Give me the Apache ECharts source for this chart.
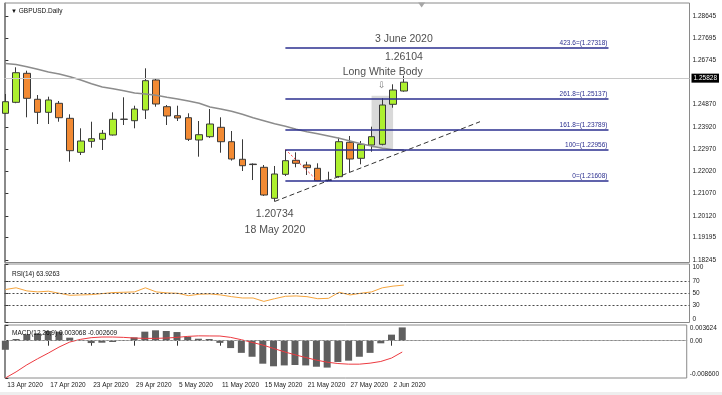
<!DOCTYPE html>
<html><head><meta charset="utf-8">
<script src="https://cdn.jsdelivr.net/npm/echarts@6/dist/echarts.min.js"></script>
<style>html,body{margin:0;padding:0;background:#fff}#c{width:722px;height:395px}</style>
</head><body><div id="c"></div>
<script>
// ---- data ----
const dates = ['13 Apr 2020','14 Apr 2020','15 Apr 2020','16 Apr 2020','17 Apr 2020','20 Apr 2020','21 Apr 2020','22 Apr 2020','23 Apr 2020','24 Apr 2020','27 Apr 2020','28 Apr 2020','29 Apr 2020','30 Apr 2020','1 May 2020','4 May 2020','5 May 2020','6 May 2020','7 May 2020','8 May 2020','11 May 2020','12 May 2020','13 May 2020','14 May 2020','15 May 2020','18 May 2020','19 May 2020','20 May 2020','21 May 2020','22 May 2020','25 May 2020','26 May 2020','27 May 2020','28 May 2020','29 May 2020','1 Jun 2020','2 Jun 2020','3 Jun 2020'];
const open  = [1.24499,1.24968,1.26207,1.25097,1.24541,1.24926,1.24285,1.22833,1.23303,1.23389,1.23572,1.24240,1.24183,1.24640,1.25921,1.24781,1.24396,1.24311,1.23359,1.23500,1.23901,1.23286,1.22535,1.22330,1.22193,1.20869,1.21894,1.22492,1.22291,1.22150,1.21630,1.21792,1.23261,1.22577,1.23145,1.23175,1.24883,1.25451];
const close = [1.24994,1.26232,1.25139,1.24541,1.25067,1.24311,1.22902,1.23316,1.23414,1.23645,1.24243,1.24250,1.24682,1.25891,1.24896,1.24384,1.24298,1.23389,1.23585,1.24042,1.23286,1.22547,1.22261,1.22310,1.21010,1.21907,1.22475,1.22364,1.22176,1.21621,1.21645,1.23286,1.22547,1.23175,1.23500,1.24853,1.25494,1.25828];
const low   = [1.24469,1.24930,1.24328,1.24042,1.24042,1.24140,1.22432,1.22718,1.23030,1.22932,1.23550,1.23999,1.23858,1.24255,1.24781,1.23999,1.24170,1.23316,1.22646,1.23450,1.22816,1.22480,1.22035,1.21650,1.20970,1.20734,1.21820,1.22193,1.21864,1.21608,1.21610,1.21749,1.21979,1.22321,1.22859,1.23130,1.24738,1.25420];
const high  = [1.25323,1.26463,1.26318,1.25280,1.25208,1.25024,1.24456,1.23858,1.24140,1.23786,1.24541,1.25182,1.24823,1.26420,1.25993,1.24853,1.24823,1.24499,1.24170,1.24682,1.24328,1.23743,1.23389,1.22360,1.22291,1.22249,1.22932,1.22833,1.22432,1.22364,1.22005,1.23457,1.23530,1.23316,1.23927,1.25139,1.25737,1.26104];
const ma    = [1.26625,1.26583,1.26489,1.26378,1.26262,1.26177,1.26062,1.25921,1.25763,1.25622,1.25549,1.25464,1.25366,1.25323,1.25267,1.25182,1.25109,1.25024,1.24926,1.24768,1.24682,1.24584,1.24456,1.24311,1.24183,1.24055,1.23944,1.23816,1.23713,1.23628,1.23530,1.23431,1.23316,1.23201,1.23103,1.23004,1.22953,1.22932];
const rsi   = [56.4,59.3,54.0,52.3,53.5,50.0,46.5,47.1,47.7,49.4,51.2,51.7,52.3,59.3,52.3,50.6,50.0,45.9,48.3,48.8,47.1,44.2,41.9,41.9,36.1,40.7,44.8,45.4,44.2,40.7,41.3,51.7,47.1,50.0,52.3,59.3,62.2,63.93];
const macdHist = [-0.00209,0.00039,0.00147,0.0017,0.00224,0.00209,0.0007,0.00005,-0.00054,-0.00046,-0.0003,0.0001,0.00077,0.00209,0.0024,0.00224,0.002,0.00093,0.00046,0.0004,-0.0005,-0.0017,-0.0028,-0.0037,-0.0053,-0.0059,-0.0057,-0.0056,-0.0057,-0.006,-0.0062,-0.0049,-0.0046,-0.0037,-0.0028,-0.0006,0.0014,0.003068];
const macdSignal = [-0.0086,-0.00719,-0.00557,-0.00417,-0.00286,-0.00147,-0.00031,0.00031,0.0007,0.00085,0.00085,0.00077,0.00062,0.00054,0.00054,0.00062,0.00077,0.001,0.00112,0.0011,0.00108,0.00077,0.00023,-0.00039,-0.001,-0.00178,-0.00255,-0.00325,-0.00387,-0.00448,-0.00495,-0.00526,-0.00541,-0.00541,-0.00518,-0.00479,-0.0040,-0.00261];
const priceTicks = [1.18245,1.19195,1.20120,1.21070,1.22020,1.22970,1.23920,1.24870,1.26745,1.27695,1.28645];
const dateLabelIdx = [0,4,8,12,16,20,24,28,32,36];
const rsiTicks = [0,30,50,70,100];
const rsiLevels = [30,50,70];
const macdTicks = [-0.0086,0,0.003624];
const macdTickLabels = ['-0.008600','0.00','0.003624'];
const fibLevels = ['0','100','161.8','261.8','423.6'];
const fibPrices = [1.21608,1.22956,1.23789,1.25137,1.27318];
const fibFrom = 26, fibTo = 56;
const lastPrice = 1.25828;
const trendPts = [[25,1.20734],[44.07,1.2414]];
const fibBasePts = [[26,1.22956],[29,1.21608]];
const highlightBox = [[34,1.23004],[36,1.25250]];
const annotText  = ['3 June 2020','1.26104','Long White Body','\u21e9','1.20734','18 May 2020'];
const annotX     = [37,37,35.03,34.94,25,25.03];
const annotPrice = [1.27671,1.26890,1.26275,1.25677,1.20186,1.19516];

// ---- chart ----
const FONT = 'Liberation Sans';
const SMALL = 6.5;
const chart = echarts.init(document.getElementById('c'), null, {renderer:'canvas', width:722, height:395});
const xBase = {type:'value', min:-0.08, max:63.52, splitLine:{show:false}};
const gridStyle = {show:true, borderColor:'#8a8a8a', borderWidth:1, backgroundColor:'#fff'};
const yLabel = {fontSize:SMALL, color:'#1a1a1a', margin:3, fontFamily:FONT};

const annotData = annotText.map((t,i)=>{
  const d = {value:[annotX[i], annotPrice[i]], name:t};
  if (t === '\u21e9') d.label = {fontFamily:'DejaVu Sans', fontSize:9, color:'#555'};
  return d;
});

const option = {
  animation:false,
  backgroundColor:'#fff',
  textStyle:{fontFamily:FONT},
  title:[
    {text:'{t|\u25bc} GBPUSD.Daily', left:6, top:3, z:20, textStyle:{fontSize:SMALL, fontWeight:'normal', color:'#111', fontFamily:FONT, rich:{t:{fontSize:6, color:'#111'}}}},
    {text:'RSI(14) 63.9263', left:7, top:266, z:20, textStyle:{fontSize:SMALL, fontWeight:'normal', color:'#111', fontFamily:FONT}},
    {text:'MACD(12,26,9) 0.003068 -0.002609', left:7, top:324.5, z:20, textStyle:{fontSize:SMALL, fontWeight:'normal', color:'#111', fontFamily:FONT}}
  ],
  graphic:[{type:'rect', left:0, top:392, shape:{width:722, height:3}, style:{fill:'#eeeeee'}, silent:true}],
  grid:[
    Object.assign({left:4.5, right:32.5, top:3, height:259.5}, gridStyle),
    Object.assign({left:4.5, right:32.5, top:264, height:58.5}, gridStyle),
    Object.assign({left:4.5, right:32.5, top:325, height:53}, gridStyle)
  ],
  xAxis:[
    Object.assign({gridIndex:0, show:false}, xBase),
    Object.assign({gridIndex:1, show:false}, xBase),
    Object.assign({gridIndex:2,
      axisLine:{show:true, lineStyle:{color:'#8a8a8a'}},
      axisTick:{show:true, customValues:dateLabelIdx, length:5, lineStyle:{color:'#333'}},
      axisLabel:{customValues:dateLabelIdx, formatter:v=>dates[Math.round(v)], align:'left', padding:[0,0,0,2], fontSize:SMALL, color:'#1a1a1a', margin:4, fontFamily:FONT}
    }, xBase)
  ],
  yAxis:[
    {type:'value', gridIndex:0, position:'right', min:1.18128, max:1.29209, splitLine:{show:false},
      axisLine:{show:true, lineStyle:{color:'#8a8a8a'}},
      axisTick:{show:true, customValues:priceTicks, length:3, lineStyle:{color:'#333'}},
      axisLabel:Object.assign({customValues:priceTicks, formatter:v=>v.toFixed(5)}, yLabel)},
    {type:'value', gridIndex:1, position:'right', min:0, max:100, splitLine:{show:false},
      axisLine:{show:true, lineStyle:{color:'#8a8a8a'}},
      axisTick:{show:true, customValues:rsiTicks, length:3, lineStyle:{color:'#333'}},
      axisLabel:Object.assign({customValues:rsiTicks, verticalAlignMaxLabel:'top', verticalAlignMinLabel:'bottom'}, yLabel)},
    {type:'value', gridIndex:2, position:'right', min:macdTicks[0], max:macdTicks[2], splitLine:{show:false},
      axisLine:{show:true, lineStyle:{color:'#8a8a8a'}},
      axisTick:{show:true, customValues:macdTicks, length:3, lineStyle:{color:'#333'}},
      axisLabel:Object.assign({customValues:macdTicks, verticalAlignMaxLabel:'top', verticalAlignMinLabel:'bottom',
        formatter:v=>{const k=macdTicks.findIndex(t=>Math.abs(t-v)<1e-9); return k>=0?macdTickLabels[k]:'';}}, yLabel)}
  ],
  series:[
    {type:'candlestick', xAxisIndex:0, yAxisIndex:0, barWidth:7, clip:true,
      data:dates.map((d,i)=>[i, open[i], close[i], low[i], high[i]]),
      encode:{x:0, y:[1,2,3,4]},
      itemStyle:{color:'#adf02e', color0:'#f28a33', borderColor:'#3a3a3a', borderColor0:'#3a3a3a', borderWidth:1},
      markArea:{silent:true, itemStyle:{color:'#d9d9d9'},
        data:[[{coord:highlightBox[0]},{coord:highlightBox[1]}]]},
      markLine:{silent:true, symbol:'none', animation:false,
        data:[{yAxis:lastPrice}],
        lineStyle:{color:'#c8c8c8', type:'solid', width:1},
        label:{position:'end', formatter:()=>lastPrice.toFixed(5), backgroundColor:'#000', color:'#fff', fontSize:SMALL, padding:[1,2,1,2], distance:2, fontFamily:FONT}},
      markPoint:{silent:true, data:[{coord:[38.65,1.29209], symbol:'triangle', symbolRotate:180, symbolSize:[7,5], symbolOffset:[0,2], itemStyle:{color:'#a6a6a6'}, label:{show:false}}]}
    },
    {type:'line', xAxisIndex:0, yAxisIndex:0, data:ma.map((v,i)=>[i,v]), symbol:'none', clip:true,
      lineStyle:{color:'#8c8c8c', width:1.5}, z:3,
      markLine:{silent:true, symbol:'none',
        data:fibPrices.map((p,k)=>[{coord:[fibFrom,p]},{coord:[fibTo,p]}]),
        lineStyle:{color:'#2b2f8f', width:1.6, type:'solid'},
        label:{position:'insideEndTop', distance:1, fontSize:SMALL, color:'#2b2f8f', fontFamily:FONT,
          formatter:p=>{const k=p.dataIndex; return fibLevels[k]+'=('+fibPrices[k].toFixed(5)+')';}}}},
    {type:'line', xAxisIndex:0, yAxisIndex:0, data:trendPts, symbol:'none', z:4,
      lineStyle:{color:'#333', width:1, type:[5,3]}},
    {type:'line', xAxisIndex:0, yAxisIndex:0, data:fibBasePts, symbol:'none', z:4,
      lineStyle:{color:'#ff3030', width:1, type:[2,2]}},
    {type:'scatter', xAxisIndex:0, yAxisIndex:0, symbolSize:0, data:annotData, z:5,
      label:{show:true, position:'inside', formatter:'{b}', fontSize:10.5, color:'#1a1a1a', fontFamily:FONT}},
    {type:'line', xAxisIndex:1, yAxisIndex:1, data:rsi.map((v,i)=>[i,v]), symbol:'none', clip:true,
      lineStyle:{color:'#f5a43c', width:1},
      markLine:{silent:true, symbol:'none', data:rsiLevels.map(v=>({yAxis:v})),
        lineStyle:{color:'#4a4a4a', width:1, type:[2,2]}, label:{show:false}}},
    {type:'bar', xAxisIndex:2, yAxisIndex:2, data:macdHist.map((v,i)=>[i,v]), barWidth:7, clip:true,
      itemStyle:{color:'#5f5f5f'},
      markLine:{silent:true, symbol:'none', data:[{yAxis:0}],
        lineStyle:{color:'#b5b5b5', width:1, type:[2,2]}, label:{show:false}}},
    {type:'line', xAxisIndex:2, yAxisIndex:2, data:macdSignal.map((v,i)=>[i,v]), symbol:'none', clip:true,
      lineStyle:{color:'#ec3a40', width:1}, z:4}
  ]
};
chart.setOption(option);
</script>
</body></html>
